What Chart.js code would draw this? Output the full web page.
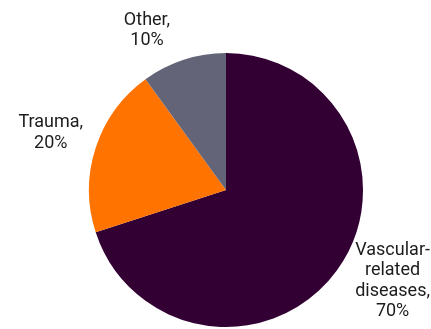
<!DOCTYPE html>
<html>
<head>
<meta charset="utf-8">
<script src="https://cdn.jsdelivr.net/npm/chart.js@4.4.1/dist/chart.umd.min.js"></script>
<style>
  html, body { margin: 0; padding: 0; background: #ffffff; }
  #wrap { width: 431px; height: 329px; position: relative; }
</style>
</head>
<body>
<div id="wrap"><canvas id="chart"></canvas></div>
<script>
// Chart data
const categories = [['Vascular-', 'related', 'diseases'], ['Trauma'], ['Other']];
const shares = [70, 20, 10];
const sliceColors = ['#330033', '#ff7300', '#646478'];

// Label style
const LABEL_FONT = '18px Roboto';
const LINE_HEIGHT = 20.5;
const LABEL_GAP = 25;

// Draws the "Name,\nNN%" labels outside each slice
const outsideLabels = {
    id: 'outsideLabels',
    afterDatasetsDraw(chart) {
        const ctx = chart.ctx;
        const meta = chart.getDatasetMeta(0);
        const W = chart.width;
        const H = chart.height;

        ctx.save();
        ctx.font = LABEL_FONT;
        ctx.fillStyle = '#1c1c1c';
        ctx.textAlign = 'center';
        ctx.textBaseline = 'middle';

        meta.data.forEach((arc, i) => {
            const mid = (arc.startAngle + arc.endAngle) / 2;
            const cos = Math.cos(mid);
            const sin = Math.sin(mid);
            const lines = categories[i].slice();
            lines[lines.length - 1] += ',';
            lines.push(shares[i] + '%');

            // size of the text block decides how far out it sits
            const w = Math.max(...lines.map(l => ctx.measureText(l).width));
            const half = lines.length * LINE_HEIGHT / 2;
            const extent = Math.abs(cos) * w / 2 + Math.abs(sin) * half;
            const dist = arc.outerRadius + LABEL_GAP + 0.6 * extent;

            let x = arc.x + cos * dist;
            let y = arc.y + sin * dist;

            // keep the block inside the canvas, sliding along the circle
            const yMin = half + 10;
            const yMax = H - half - 7;
            if (y < yMin || y > yMax) {
                y = Math.min(Math.max(y, yMin), yMax);
                const dy = y - arc.y;
                const dx = Math.sqrt(Math.max(dist * dist - dy * dy, 0));
                x = arc.x + Math.sign(cos) * dx;
            }
            x = Math.min(Math.max(x, w / 2 + 2), W - w / 2 - 1);

            lines.forEach((line, j) => {
                ctx.fillText(line, x, y - half + LINE_HEIGHT * (j + 0.5));
            });
        });

        ctx.restore();
    }
};

new Chart(document.getElementById('chart'), {
    type: 'pie',
    data: {
        labels: categories.map(c => c.join(' ')),
        datasets: [{
            data: shares,
            backgroundColor: sliceColors,
            borderWidth: 0
        }]
    },
    options: {
        responsive: true,
        maintainAspectRatio: false,
        animation: false,
        layout: {
            padding: { top: 53, bottom: 2, left: 89, right: 68 }
        },
        plugins: {
            legend: { display: false },
            tooltip: { enabled: false }
        }
    },
    plugins: [outsideLabels]
});
</script>
</body>
</html>
